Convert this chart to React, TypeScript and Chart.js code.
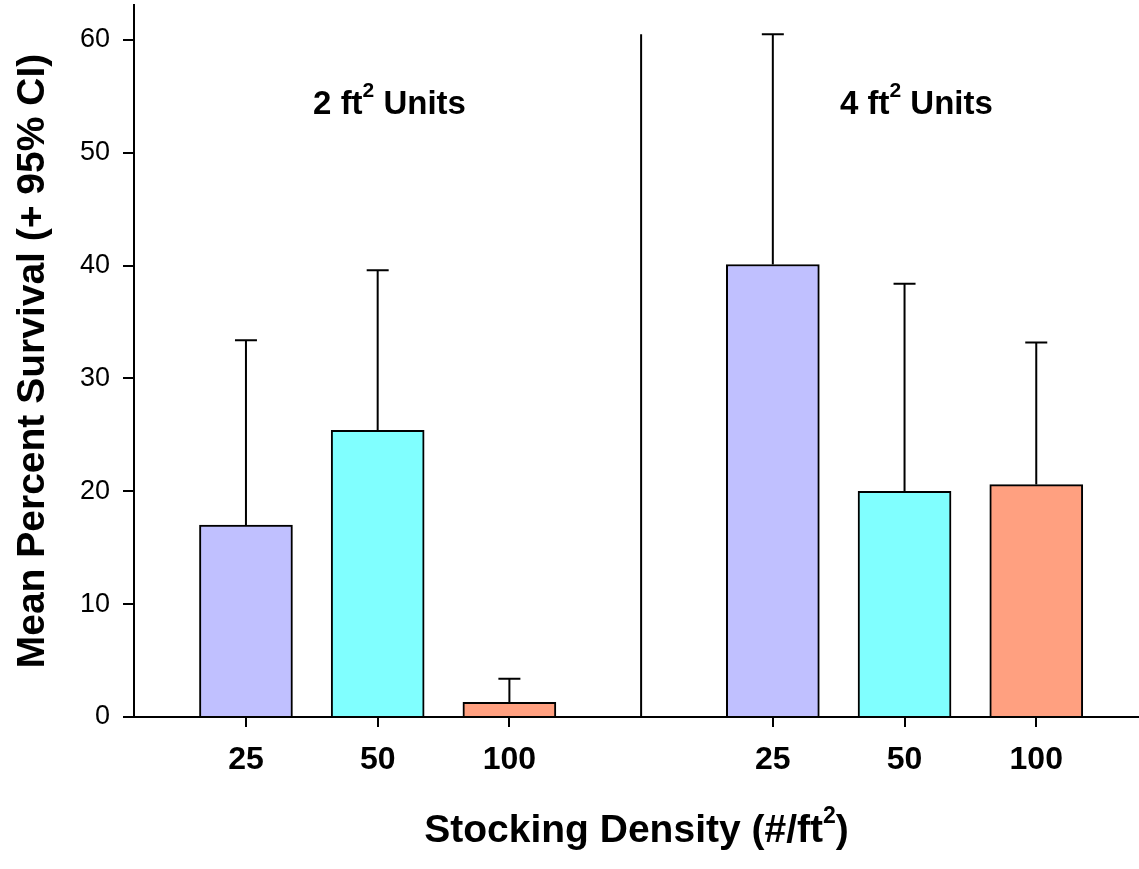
import React, { useEffect, useRef } from 'react';
import { Chart, registerables } from 'chart.js';

Chart.register(...registerables);

// ---- data ----
const DENSITIES = ['25', '50', '100'];
const MEAN_2FT = [17.0, 25.4, 1.3];
const UPPER_CI_2FT = [33.4, 39.6, 3.4];
const MEAN_4FT = [40.1, 20.0, 20.6];
const UPPER_CI_4FT = [60.5, 38.4, 33.2];
const BAR_COLORS = ['#c0c0ff', '#80ffff', '#ffa080'];
const Y_TICKS = [0, 10, 20, 30, 40, 50, 60];
const Y_TITLE = 'Mean Percent Survival (+ 95% CI)';
// text segments: [text, isSuperscript]
const X_TITLE: [string, boolean][] = [['Stocking Density (#/ft', false], ['2', true], [')', false]];
const PANEL_TITLES: [string, boolean][][] = [
  [['2 ft', false], ['2', true], [' Units', false]],
  [['4 ft', false], ['2', true], [' Units', false]],
];
const DIVIDER_TOP = 60.5;

const FONT = '"Liberation Sans", Arial, sans-serif';

// slot index for group g, density i (one empty slot between groups)
const slot = (g: number, i: number) => g * 4 + i;

const BAR_POINTS = [
  ...MEAN_2FT.map((v, i) => ({ x: slot(0, i), y: v })),
  ...MEAN_4FT.map((v, i) => ({ x: slot(1, i), y: v })),
];
const UPPER = [...UPPER_CI_2FT, ...UPPER_CI_4FT];
const COLORS = [...BAR_COLORS, ...BAR_COLORS];
const X_TICK_LABELS: Record<number, string> = {};
DENSITIES.forEach((d, i) => {
  X_TICK_LABELS[slot(0, i)] = d;
  X_TICK_LABELS[slot(1, i)] = d;
});

function drawSegments(
  ctx: CanvasRenderingContext2D,
  segs: [string, boolean][],
  cx: number,
  baseline: number,
  size: number,
  supSize: number,
  raise: number
) {
  const widths = segs.map(([t, sup]) => {
    ctx.font = `bold ${sup ? supSize : size}px ${FONT}`;
    return ctx.measureText(t).width;
  });
  const total = widths.reduce((a, b) => a + b, 0);
  let x = cx - total / 2;
  ctx.textAlign = 'left';
  ctx.textBaseline = 'alphabetic';
  ctx.fillStyle = '#000';
  segs.forEach(([t, sup], k) => {
    ctx.font = `bold ${sup ? supSize : size}px ${FONT}`;
    ctx.fillText(t, x, sup ? baseline - raise : baseline);
    x += widths[k];
  });
}

const overlayPlugin = {
  id: 'overlay',
  afterDatasetsDraw(chart: any) {
    const { ctx, scales, chartArea } = chart;
    const xs = scales.x;
    const ys = scales.y;
    ctx.save();
    ctx.strokeStyle = '#000';
    ctx.lineWidth = 2;
    // error bars
    BAR_POINTS.forEach((p, k) => {
      const x = xs.getPixelForValue(p.x);
      const y0 = ys.getPixelForValue(p.y);
      const y1 = ys.getPixelForValue(UPPER[k]);
      ctx.beginPath();
      ctx.moveTo(x, y0);
      ctx.lineTo(x, y1);
      ctx.moveTo(x - 11, y1);
      ctx.lineTo(x + 11, y1);
      ctx.stroke();
    });
    // divider
    const dx = xs.getPixelForValue(3);
    ctx.beginPath();
    ctx.moveTo(dx, ys.getPixelForValue(0));
    ctx.lineTo(dx, ys.getPixelForValue(DIVIDER_TOP));
    ctx.stroke();
    // panel titles
    PANEL_TITLES.forEach((segs, g) => {
      drawSegments(ctx, segs, xs.getPixelForValue(slot(g, 1) + 0.09), ys.getPixelForValue(53.4), 33, 21, 17);
    });
    // x title
    drawSegments(ctx, X_TITLE, (chartArea.left + chartArea.right) / 2, 842, 39, 23, 19);
    ctx.restore();
  },
};

export default function App() {
  const ref = useRef<HTMLCanvasElement>(null);
  useEffect(() => {
    if (!ref.current) return;
    const chart = new Chart(ref.current, {
      type: 'bar',
      data: {
        datasets: [
          {
            data: BAR_POINTS as any,
            backgroundColor: COLORS,
            borderColor: '#000',
            borderWidth: 2,
            borderSkipped: 'start',
            barThickness: 93,
          },
        ],
      },
      options: {
        animation: false,
        responsive: false,
        layout: { padding: { top: 5, right: 0, left: 0, bottom: 0 } },
        plugins: { legend: { display: false }, tooltip: { enabled: false } },
        scales: {
          x: {
            type: 'linear',
            min: -0.85,
            max: 6.78,
            offset: false,
            afterBuildTicks: (s: any) => {
              s.ticks = Object.keys(X_TICK_LABELS).map((v) => ({ value: Number(v) }));
            },
            afterFit: (s: any) => {
              s.height = 152;
              s.paddingLeft = 0;
              s.paddingRight = 0;
            },
            ticks: {
              callback: (v: any) => X_TICK_LABELS[Number(v)] ?? '',
              color: '#000',
              font: { family: FONT, size: 32, weight: 'bold' },
              padding: 14,
              maxRotation: 0,
              autoSkip: false,
            },
            grid: {
              offset: false,
              drawOnChartArea: false,
              drawTicks: true,
              tickLength: 10,
              lineWidth: 2,
              color: '#000',
            },
            border: { display: true, color: '#000', width: 2 },
          },
          y: {
            type: 'linear',
            min: 0,
            max: 63.1,
            afterBuildTicks: (s: any) => {
              s.ticks = Y_TICKS.map((v) => ({ value: v }));
            },
            afterFit: (s: any) => {
              s.width = 134;
              s.paddingTop = 0;
              s.paddingBottom = 0;
            },
            ticks: {
              color: '#000',
              font: { family: FONT, size: 27 },
              padding: 13,
            },
            grid: {
              drawOnChartArea: false,
              drawTicks: true,
              tickLength: 11,
              lineWidth: 2,
              color: '#000',
            },
            border: { display: true, color: '#000', width: 2 },
            title: {
              display: true,
              text: Y_TITLE,
              color: '#000',
              font: { family: FONT, size: 39, weight: 'bold' },
              padding: { top: 10, bottom: 0 },
            },
          },
        },
      },
      plugins: [overlayPlugin],
    });
    return () => chart.destroy();
  }, []);
  return (
    <canvas
      ref={ref}
      width={1139}
      height={869}
      style={{ position: 'absolute', left: 0, top: 0, width: 1139, height: 869 }}
    />
  );
}
